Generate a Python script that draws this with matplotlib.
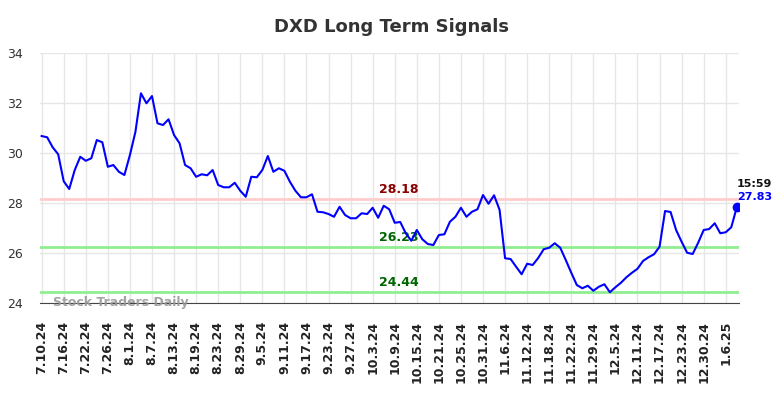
import numpy as np
import matplotlib
matplotlib.use("Agg")
import matplotlib.pyplot as plt

# closing prices, one per trading day
prices = [
    30.68, 30.63, 30.23, 29.95, 28.87, 28.56, 29.32, 29.85, 29.69, 29.79,
    30.52, 30.43, 29.45, 29.52, 29.25, 29.12, 29.92, 30.85, 32.39, 31.99,
    32.28, 31.19, 31.12, 31.35, 30.72, 30.39, 29.52, 29.39, 29.05, 29.15,
    29.11, 29.32, 28.72, 28.63, 28.63, 28.81, 28.49, 28.25, 29.05, 29.03,
    29.32, 29.88, 29.25, 29.39, 29.29, 28.85, 28.49, 28.23, 28.23, 28.35,
    27.65, 27.63, 27.56, 27.45, 27.85, 27.52, 27.39, 27.39, 27.59, 27.56,
    27.81, 27.41, 27.89, 27.75, 27.21, 27.24, 26.79, 26.49, 26.92, 26.55,
    26.36, 26.32, 26.72, 26.75, 27.25, 27.45, 27.81, 27.45, 27.65, 27.75,
    28.32, 27.97, 28.31, 27.73, 25.79, 25.76, 25.45, 25.15, 25.57, 25.52,
    25.80, 26.15, 26.21, 26.39, 26.21, 25.72, 25.21, 24.72, 24.59, 24.69,
    24.49, 24.65, 24.75, 24.43, 24.63, 24.81, 25.03, 25.21, 25.37, 25.68,
    25.83, 25.95, 26.25, 27.68, 27.64, 26.92, 26.45, 26.01, 25.96, 26.41,
    26.92, 26.96, 27.19, 26.79, 26.83, 27.03, 27.83,
]

tick_labels = [
    "7.10.24", "7.16.24", "7.22.24", "7.26.24", "8.1.24", "8.7.24", "8.13.24",
    "8.19.24", "8.23.24", "8.29.24", "9.5.24", "9.11.24", "9.17.24", "9.23.24",
    "9.27.24", "10.3.24", "10.9.24", "10.15.24", "10.21.24", "10.25.24",
    "10.31.24", "11.6.24", "11.12.24", "11.18.24", "11.22.24", "11.29.24",
    "12.5.24", "12.11.24", "12.17.24", "12.23.24", "12.30.24", "1.6.25",
]

resistance = 28.18
supports = [26.23, 24.44]
last_time = "15:59"

x = np.arange(len(prices))
ticks = np.arange(0, len(prices), 4)[:len(tick_labels)]

fig = plt.figure(figsize=(7.84, 3.98), dpi=100)
ax = fig.add_axes([0.051, 0.2387, 0.8916, 0.628])

# grid
ax.set_axisbelow(True)
ax.grid(True, color="#e6e6e6", linewidth=1)

# signal levels
ax.axhline(resistance, color="#ffcccc", linewidth=2, zorder=1)
for s in supports:
    ax.axhline(s, color="#90ee90", linewidth=2, zorder=1)

mid = 64.7
ax.text(mid, resistance + 0.12, f"{resistance:.2f}", color="#8b0000",
        fontsize=9, fontweight="bold", ha="center", va="bottom")
for s in supports:
    ax.text(mid, s + 0.12, f"{s:.2f}", color="#006400",
            fontsize=9, fontweight="bold", ha="center", va="bottom")

# price line
ax.plot(x, prices, color="#0000ff", linewidth=1.5, zorder=3)
ax.plot(x[-1], prices[-1], "o", color="#0000ff", markersize=6, zorder=4)
ax.text(x[-1], prices[-1] + 0.92, last_time, color="#111111",
        fontsize=8, fontweight="bold", ha="left", va="center")
ax.text(x[-1], prices[-1] + 0.41, f"{prices[-1]:.2f}", color="#0000ff",
        fontsize=8, fontweight="bold", ha="left", va="center")

# watermark
ax.text(2, 24.0, "Stock Traders Daily", color="#999999", fontsize=9,
        fontweight="bold", ha="left", va="center", alpha=0.9, zorder=5)

ax.set_xlim(-0.3, len(prices) - 0.6)
ax.set_ylim(24, 34)
ax.set_yticks([24, 26, 28, 30, 32, 34])
ax.set_xticks(ticks)
ax.set_xticklabels(tick_labels, rotation=90, fontsize=9, fontweight="bold",
                   color="#222222")
ax.tick_params(axis="x", length=0, pad=13)
ax.tick_params(axis="y", length=0, pad=12, labelsize=9, labelcolor="#333333")

for side in ["left", "right", "top"]:
    ax.spines[side].set_visible(False)
ax.spines["bottom"].set_color("#444444")

fig.suptitle("DXD Long Term Signals", fontsize=13, fontweight="bold",
             color="#333333", x=0.5, y=0.955)

fig.savefig("out.png", dpi=100)
